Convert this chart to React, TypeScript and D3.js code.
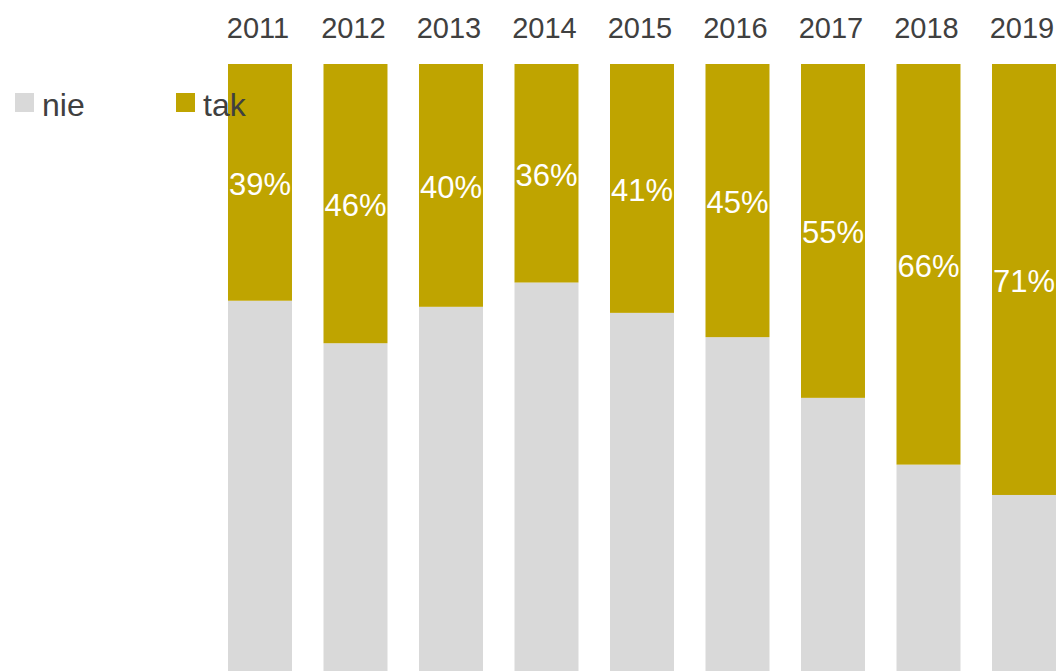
import React from "react";
import * as d3 from "d3";

const years = ["2011", "2012", "2013", "2014", "2015", "2016", "2017", "2018", "2019"];
const takValues = [39, 46, 40, 36, 41, 45, 55, 66, 71];
const nieValues = [61, 54, 60, 64, 59, 55, 45, 34, 29];
const seriesNames = ["nie", "tak"];
const seriesColors = ["#D9D9D9", "#BFA400"];

const W = 1063;
const H = 671;
const FONT = "'Liberation Sans', Arial, sans-serif";

export default function App() {
  const x = d3
    .scaleBand<string>()
    .domain(years)
    .range([212.24, 1071.74])
    .paddingInner(0.33)
    .paddingOuter(0.165);
  const y = d3.scaleLinear().domain([0, 100]).range([H, 64]);

  const rows = years.map((yr, i) => ({ year: yr, nie: nieValues[i], tak: takValues[i] }));
  const stack = d3.stack<any>().keys(seriesNames)(rows);

  return (
    <svg
      width={W}
      height={H}
      style={{ position: "absolute", left: 0, top: 0, background: "#fff" }}
    >
      {stack.map((layer, si) => (
        <g key={layer.key} fill={seriesColors[si]}>
          {layer.map((d, i) => (
            <rect
              key={years[i]}
              x={x(years[i])}
              y={y(d[1])}
              width={x.bandwidth()}
              height={y(d[0]) - y(d[1])}
            />
          ))}
        </g>
      ))}
      {stack[1].map((d, i) => (
        <text
          key={"l" + i}
          x={(x(years[i]) as number) + x.bandwidth() / 2}
          y={(y(d[0]) + y(d[1])) / 2 + 2}
          textAnchor="middle"
          dominantBaseline="central"
          fill="#fff"
          fontFamily={FONT}
          fontSize={31}
        >
          {takValues[i]}%
        </text>
      ))}
      {years.map((yr) => (
        <text
          key={"y" + yr}
          x={(x(yr) as number) + x.bandwidth() / 2 - 2}
          y={38}
          textAnchor="middle"
          fill="#404040"
          fontFamily={FONT}
          fontSize={29}
        >
          {yr}
        </text>
      ))}
      <g>
        <rect x={15} y={93} width={19} height={19} fill={seriesColors[0]} />
        <text x={42} y={116} fill="#404040" fontFamily={FONT} fontSize={32}>
          {seriesNames[0]}
        </text>
        <rect x={176} y={93} width={19} height={19} fill={seriesColors[1]} />
        <text x={203} y={116} fill="#404040" fontFamily={FONT} fontSize={32}>
          {seriesNames[1]}
        </text>
      </g>
    </svg>
  );
}
